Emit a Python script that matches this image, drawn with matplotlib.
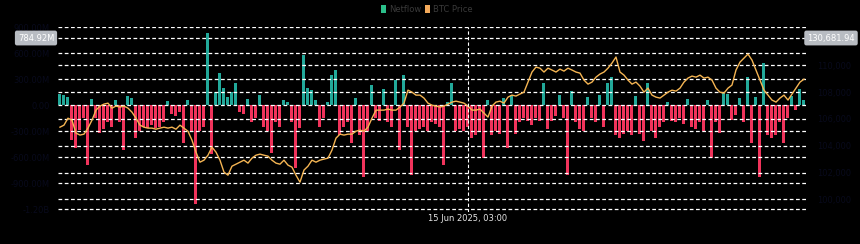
import matplotlib as mpl
mpl.use('Agg')
import matplotlib.pyplot as plt
import numpy as np

# hourly netflow (millions) and BTC price
netflow = [130, 115, 90, -400, -500, -290, -150, -690, 70, -150,
           -320, -280, -200, -250, 60, -200, -520, 100, 80, -380,
           -300, -250, -260, -230, -270, -250, -200, 45, -100, -130,
           -80, -440, 60, -300, -1140, -300, -250, 830, -560, 150,
           370, 200, 90, 150, 250, -80, -100, 70, -190, -150,
           120, -250, -300, -550, -200, -250, 60, 40, -200, -730,
           -270, 577, 200, 170, 60, -250, -150, 40, 350, 400,
           -350, -250, -200, -440, 80, -350, -830, -300, 230, -150,
           -180, 190, -200, -250, 290, -520, 350, -250, -810, -300,
           -280, -250, -300, -200, -220, -250, -690, 40, 260, -300,
           -280, -300, -250, -380, -350, -300, -610, 60, -350, -300,
           -330, 80, -500, 120, -330, -200, -150, -180, -230, -150,
           -180, 250, -280, -180, -130, 120, -150, -810, 160, -200,
           -280, -300, 90, -150, -200, 120, -250, 250, 320, -350,
           -380, -330, -300, -350, 110, -330, -420, 250, -300, -380,
           -250, -200, 40, -180, -200, -150, -220, 70, -250, -280,
           -200, -300, 60, -610, -200, -320, 140, 130, -170, -120,
           80, -200, 320, -440, 90, -830, 485, -350, -380, -340,
           -200, -440, -150, 110, -60, 190, 60]

price = [105380, 105530, 106050, 105900, 104940, 104790, 104860, 105310, 105900, 106650,
         106950, 107100, 107170, 106800, 106950, 106880, 106950, 106800, 106500, 106050,
         105530, 105380, 105310, 105310, 105230, 105310, 105380, 105310, 105380, 105230,
         105530, 105310, 105080, 104410, 103520, 102770, 102920, 103290, 103890, 103520,
         102920, 102030, 101800, 102470, 102620, 102770, 102920, 102700, 103070, 103290,
         103370, 103290, 103220, 102920, 102700, 102620, 102920, 102550, 102400, 101800,
         101280, 102180, 102470, 102920, 102770, 102920, 103000, 103070, 103670, 104560,
         104860, 104790, 104860, 104860, 105080, 105160, 105080, 105380, 106050, 106650,
         106650, 106650, 106730, 106650, 106650, 106880, 107170, 108140, 107990, 107770,
         107770, 107550, 107170, 107020, 106950, 106880, 106950, 107100, 107250, 107320,
         107250, 107170, 106950, 106650, 106650, 106730, 106430, 106130, 106950, 107250,
         107320, 107170, 107620, 107770, 107700, 107850, 107990, 108740, 109490, 109860,
         109780, 109490, 109780, 109640, 109490, 109710, 109560, 109780, 109640, 109490,
         109410, 108890, 108590, 108740, 109110, 109340, 109490, 109780, 110160, 110610,
         109490, 109260, 108890, 108590, 108740, 108440, 107990, 108290, 107770, 107620,
         107550, 107770, 107990, 108140, 108070, 108290, 108740, 109040, 109190, 109110,
         109260, 109040, 109110, 108890, 108290, 107990, 107920, 108290, 108520, 109640,
         110230, 110530, 110830, 110380, 109640, 108890, 108140, 107770, 107400, 107250,
         107550, 107770, 107400, 107850, 108290, 108740, 108960]

left_ticks = [900, 600, 300, 0, -300, -600, -900, -1200]
left_labels = ['900.00M', '600.00M', '300.00M', '0.00', '-300.00M', '-600.00M', '-900.00M', '-1.20B']
right_ticks = [112000, 110000, 108000, 106000, 104000, 102000, 100000]
right_labels = ['', '110,000', '108,000', '106,000', '104,000', '102,000', '100,000']

n = len(netflow)
x = np.arange(n)
vals = np.array(netflow)
cols = np.where(vals >= 0, '#22a99a', '#f0335b')
faint = '#080a1c'
dash = (0, (3, 2))

fig = plt.figure(figsize=(8.6, 2.44), dpi=100, facecolor='black')
ax = fig.add_axes([0.0674, 0.131, 0.8698, 0.758])
ax.set_facecolor('black')
ax.bar(x, vals, width=0.75, color=cols, linewidth=0, zorder=1)
ax.set_xlim(-0.5, n - 0.5)
ax.set_ylim(-1234, 900)
ax.set_yticks(left_ticks)
ax.set_yticklabels(left_labels)
ax.yaxis.grid(True, color='white', linestyle=dash, linewidth=0.9, zorder=2)
ax.set_axisbelow(False)
ax.tick_params(axis='y', length=0, colors=faint, labelsize=6, pad=6)
ax.tick_params(axis='x', length=0, labelbottom=False)
for s in ax.spines.values():
    s.set_visible(False)

ax2 = ax.twinx()
ax2.set_ylim(99052, 112843)
ax2.set_yticks(right_ticks)
ax2.set_yticklabels(right_labels)
ax2.yaxis.grid(True, color='white', linestyle=dash, linewidth=0.9)
ax2.set_axisbelow(True)
ax2.plot(x, price, color='#f5b553', linewidth=1.0, zorder=3)
ax2.tick_params(axis='y', length=0, colors=faint, labelsize=6, pad=8)
for s in ax2.spines.values():
    s.set_visible(False)

# crosshair
cx = 102
ax2.axvline(cx, color='white', linestyle=dash, linewidth=0.8, zorder=4)
ax2.annotate('15 Jun 2025, 03:00', xy=(cx, 0), xycoords=('data', 'axes fraction'),
             xytext=(0, -4.5), textcoords='offset points', ha='center', va='center',
             color='#e6e6e6', fontsize=6)

# value badges
badge = dict(boxstyle='round,pad=0.35,rounding_size=0.25', facecolor='#b8bcc2', edgecolor='none')
fig.text(36/860, 1 - 38/244, '784.92M', ha='center', va='center', color='white',
         fontsize=6, bbox=badge)
fig.text(831/860, 1 - 38/244, '130,681.94', ha='center', va='center', color='white',
         fontsize=6, bbox=badge)

# legend
fig.patches.append(mpl.patches.Rectangle((381/860, 1 - 13/244), 5/860, 8/244,
                   transform=fig.transFigure, facecolor='#2bbf8a', edgecolor='none'))
fig.text(389/860, 1 - 9/244, 'Netflow', ha='left', va='center', color='#3a3a3a', fontsize=6)
fig.patches.append(mpl.patches.Rectangle((425/860, 1 - 13/244), 5/860, 8/244,
                   transform=fig.transFigure, facecolor='#f2a95a', edgecolor='none'))
fig.text(433/860, 1 - 9/244, 'BTC Price', ha='left', va='center', color='#3a3a3a', fontsize=6)

plt.savefig('out.png', dpi=100, facecolor='black')
